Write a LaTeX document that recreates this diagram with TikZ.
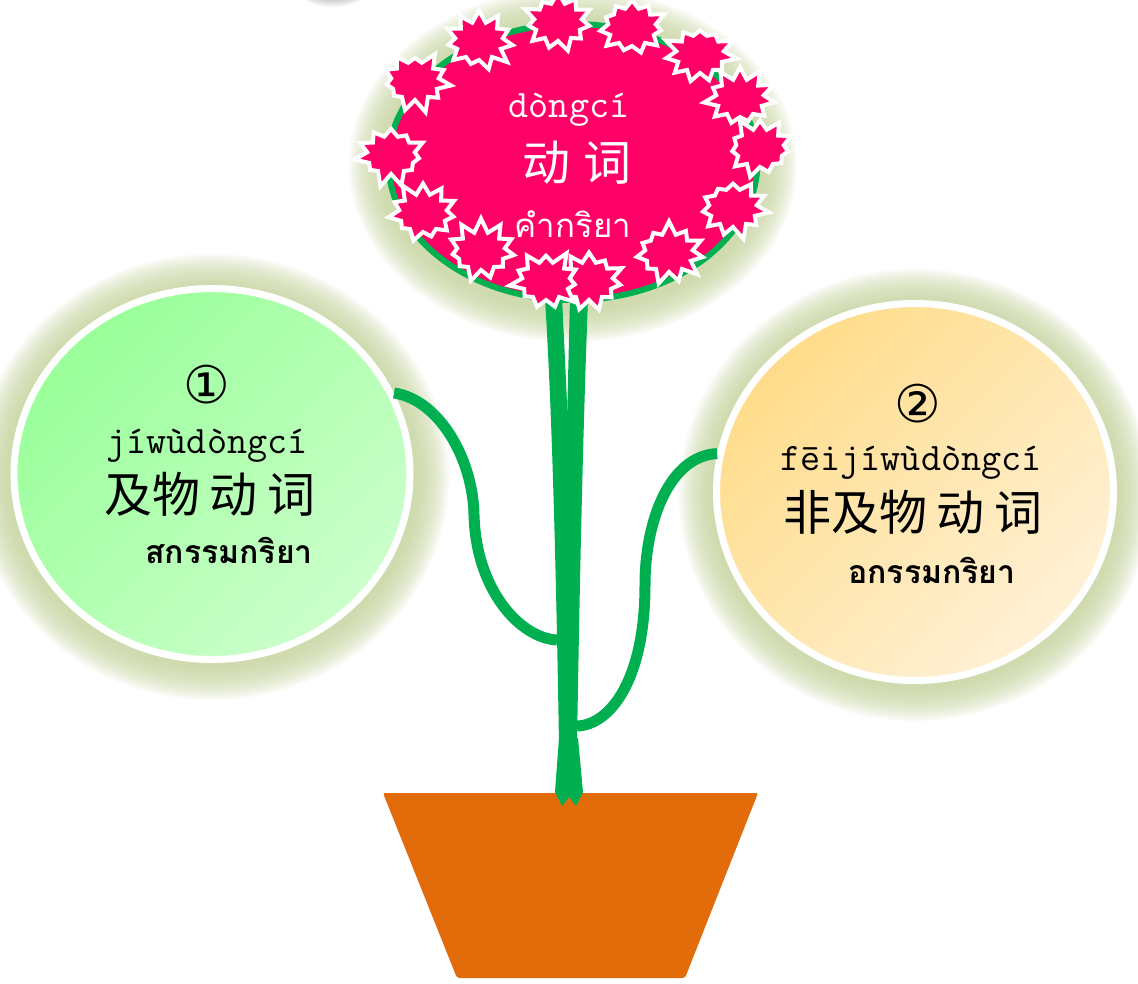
\documentclass[tikz,border=0pt]{standalone}
\usepackage{fontspec}
\newfontfamily\cjk{Noto Sans CJK SC}
\newfontfamily\thaifont[Script=Thai]{Loma}
\newfontfamily\symfont{DejaVu Sans}
\usetikzlibrary{shapes.geometric,shapes.symbols}

\definecolor{stalkgreen}{HTML}{00B050}
\definecolor{petalpink}{HTML}{FF0066}
\definecolor{potclay}{HTML}{E36C0A}
\definecolor{haloolive}{HTML}{C3D19A}
\definecolor{mintdark}{HTML}{99FF99}
\definecolor{mintlight}{HTML}{CCFFCC}
\definecolor{sanddark}{HTML}{FFDC8A}
\definecolor{sandlight}{HTML}{FFF1D6}
\definecolor{capteal}{HTML}{2E7D8C}

\tikzset{
  bubble/.style={ellipse, draw=white, line width=7pt, inner sep=0pt},
  burst/.style={starburst, random starburst=#1, starburst points=11,
    starburst point height=14pt, fill=petalpink, draw=white, line width=4pt,
    minimum width=76pt, minimum height=66pt, inner sep=0pt},
  twig/.style={draw=stalkgreen, line width=11pt},
  pinyin/.style={anchor=base, font=\ttfamily\fontsize{39}{39}\selectfont},
  hanzi/.style={anchor=base, font=\cjk\fontsize{48}{48}\selectfont},
  thaiword/.style={anchor=base, font=\thaifont\bfseries\fontsize{32}{32}\selectfont},
  badge/.style={font=\symfont\fontsize{52}{52}\selectfont},
}

\begin{document}
\begin{tikzpicture}[x=1pt, y=-1pt]
  \useasboundingbox (0,0) rectangle (1138,983);

  % soft glow round the flower head and the two bubbles
  \foreach \g in {2,4,...,34} {
    \fill[haloolive, opacity=0.09] (573,165) ellipse ({190+\g} and {143+\g});
    \fill[haloolive, opacity=0.09] (212,477) ellipse ({203+\g} and {189+\g});
    \fill[haloolive, opacity=0.09] (915,495) ellipse ({202+\g} and {192+\g});
  }

  % cap peeping in at the top edge
  \foreach \g in {1,3,...,11}
    \fill[black, opacity=0.05] (333,-20) ellipse ({30+\g} and {16+\g});
  \fill[capteal] (333,-20) ellipse (30 and 16);

  % flower pot
  \fill[potclay, rounded corners=2pt] (383,793) -- (758,793) -- (685,978) -- (457,978) -- cycle;

  % two strands of the stalk and the split foot
  \fill[stalkgreen] (545,298) -- (562,298) .. controls (566,380) and (568,420) .. (569,460)
    -- (572,745) -- (559,745) .. controls (555,500) and (550,380) .. (545,298) -- cycle;
  \fill[stalkgreen] (588,298) -- (570,298) .. controls (568,380) and (567,420) .. (566,460)
    -- (564,745) -- (577,745) .. controls (581,500) and (585,380) .. (588,298) -- cycle;
  \fill[stalkgreen] (559,738) -- (555,792) -- (562,806) -- (569,797) -- (576,806)
    -- (583,792) -- (578,738) -- cycle;

  % flower head
  \node[ellipse, draw=stalkgreen, line width=6pt, fill=petalpink,
    minimum width=369pt, minimum height=276pt] (bloom) at (573,162) {};
  \foreach \bx/\by [count=\k] in {558/22, 632/27, 700/54, 740/98, 760/148, 733/208,
      669/253, 589/281, 546/281, 481/251, 423/213, 391/155, 415/81, 479/41}
    \node[burst=\k] (petal\k) at (\bx,\by) {};

  \node[pinyin, text=white] (bloompy) at (569,117) {dòngcí};
  \node[hanzi, text=white] (bloomcn) at (577,180) {动\hspace{14pt}词};
  \node[thaiword, text=white, font=\thaifont\fontsize{33}{33}\selectfont] (bloomth) at (573,237) {คำกริยา};

  % the two bubbles
  \node[bubble, top color=mintdark, bottom color=mintlight, shading angle=45,
    minimum width=396pt, minimum height=371pt] (vt) at (212,474) {};
  \node[bubble, top color=sanddark, bottom color=sandlight, shading angle=45,
    minimum width=397pt, minimum height=377pt] (vi) at (915,492) {};

  % side shoots from the stalk
  \coordinate (knotL) at (557,640);
  \coordinate (knotR) at (577,726);
  \draw[twig] (vt.24) .. controls (440,400) and (473,460) .. (474,515)
    .. controls (476,590) and (520,638) .. (knotL);
  \draw[twig] (vi.169) .. controls (670,456) and (645,520) .. (645,585)
    .. controls (645,680) and (610,725) .. (knotR);

  % texts of the first bubble
  \node[badge] (num1) at (207,385) {①};
  \node[pinyin] (vtpy) at (207,453) {jíwùdòngcí};
  \node[hanzi] (vtcn) at (210,512) {及物\hspace{10pt}动\hspace{10pt}词};
  \node[thaiword] (vtth) at (229,563) {สกรรมกริยา};

  % texts of the second bubble
  \node[badge] (num2) at (918,404) {②};
  \node[pinyin] (vipy) at (911,470) {fēijíwùdòngcí};
  \node[hanzi] (vicn) at (913,530) {非及物\hspace{10pt}动\hspace{10pt}词};
  \node[thaiword] (vith) at (932,583) {อกรรมกริยา};
\end{tikzpicture}
\end{document}
